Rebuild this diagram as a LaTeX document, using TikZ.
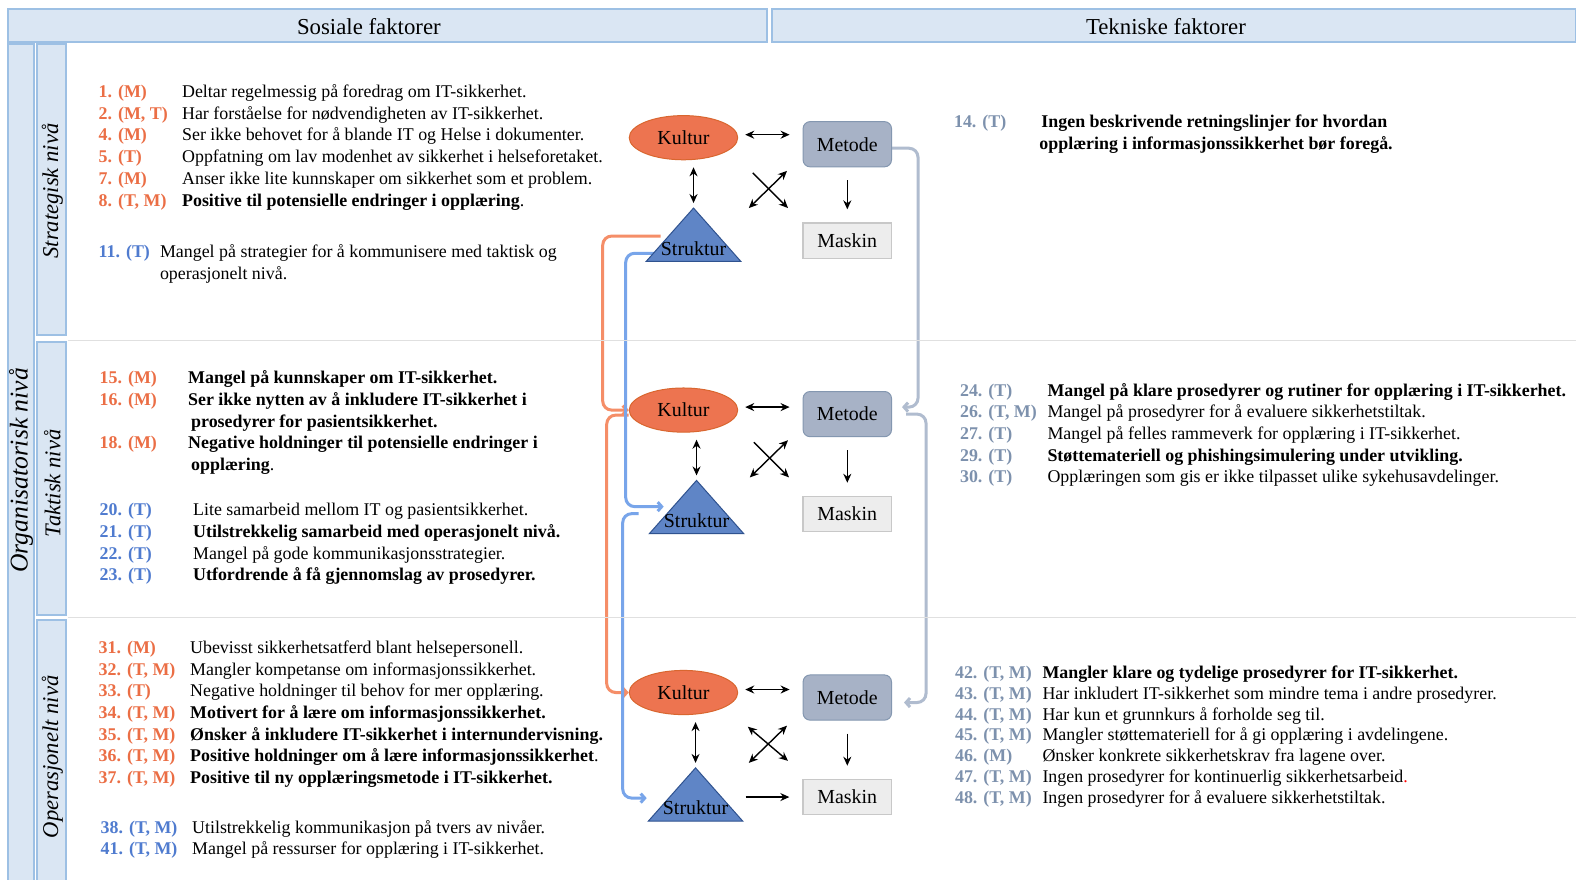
\documentclass[tikz,border=0pt]{standalone}
\usepackage{fontspec}
\setmainfont{Liberation Serif}
\usetikzlibrary{shapes.geometric,arrows.meta,backgrounds}

\definecolor{headfill}{HTML}{DAE6F3}
\definecolor{headline}{HTML}{9DC0E4}
\definecolor{kulturfill}{HTML}{ED7450}
\definecolor{kulturline}{HTML}{D9662F}
\definecolor{strukturfill}{HTML}{5F85C6}
\definecolor{strukturline}{HTML}{2F528F}
\definecolor{metodefill}{HTML}{A7B2C6}
\definecolor{metodeline}{HTML}{8497B0}
\definecolor{maskinfill}{HTML}{EDEDED}
\definecolor{maskinline}{HTML}{C8C8C8}
\definecolor{numorange}{HTML}{EB6E45}
\definecolor{numblue}{HTML}{4F7BCF}
\definecolor{numgray}{HTML}{7D91AD}
\definecolor{flowor}{HTML}{F58E68}
\definecolor{flowblue}{HTML}{78A5EA}
\definecolor{flowgray}{HTML}{B0BCCF}

% triangle with its label: name, apex x, apex y
\newcommand{\strukturtri}[3]{%
  \coordinate (#1-top) at (#2,#3);
  \filldraw[trifill] (#2-47,#3+53) -- (#1-top) -- (#2+47,#3+53) -- cycle;
  \node[shapetext] (#1) at (#2,#3+40) {Struktur};
}

\begin{document}
\begin{tikzpicture}[x=1.005pt,y=-1.005pt]
    % Define the styles for the bars, shapes, texts and arrows
    \tikzstyle{headbox}=[draw=headline, fill=headfill, line width=2pt]
    \tikzstyle{headtext}=[inner sep=0, font=\fontsize{22.8}{26}\selectfont]
    \tikzstyle{sidetext}=[inner sep=0, rotate=90, font=\fontsize{22.6}{26}\selectfont\itshape]
    \tikzstyle{sepline}=[draw=black!12, line width=1pt]
    \tikzstyle{kultur}=[ellipse, draw=kulturline, fill=kulturfill, line width=1pt, minimum width=108.5, minimum height=44.2, inner sep=0, font=\fontsize{19.9}{22}\selectfont]
    \tikzstyle{metode}=[rectangle, rounded corners=7, draw=metodeline, fill=metodefill, line width=1pt, minimum width=88.4, minimum height=45.2, font=\fontsize{19.9}{22}\selectfont]
    \tikzstyle{maskin}=[rectangle, draw=maskinline, fill=maskinfill, line width=1.5pt, minimum width=88.4, minimum height=35.2, font=\fontsize{19.9}{22}\selectfont]
    \tikzstyle{trifill}=[draw=strukturline, fill=strukturfill, line width=1pt]
    \tikzstyle{shapetext}=[inner sep=0, font=\fontsize{19.9}{22}\selectfont]
    \tikzstyle{biarrow}=[line width=1.4pt, {Stealth[length=9pt,width=8pt]}-{Stealth[length=9pt,width=8pt]}]
    \tikzstyle{onearrow}=[line width=1.4pt, -{Stealth[length=9pt,width=8pt]}]
    \tikzstyle{flow}=[line width=3pt, rounded corners=9, -{Straight Barb[length=4pt,width=9pt]}]
    \tikzstyle{nr}=[anchor=base west, inner sep=0, font=\fontsize{17.9}{21.7}\selectfont]
    \tikzstyle{txt}=[anchor=base west, inner sep=0, font=\fontsize{17.9}{21.7}\selectfont]

    \useasboundingbox (0,0) rectangle (1568,874.6);

    % Draw the header and the level bars
    \draw[headbox] (8,9) rectangle (763,42);
    \draw[headbox] (768,9) rectangle (1568,42);
    \node[headtext] (sosiale) at (367,26) {Sosiale faktorer};
    \node[headtext] (tekniske) at (1160,26) {Tekniske faktorer};
    \draw[headbox] (8,44) rectangle (34,890);
    \draw[headbox] (37,44) rectangle (66,333);
    \draw[headbox] (37,340) rectangle (66,612);
    \draw[headbox] (37,617) rectangle (66,890);
    \node[sidetext, font=\fontsize{25.6}{28}\selectfont\itshape] (organisatorisk) at (21,468) {Organisatorisk nivå};
    \node[sidetext] (strategisk) at (52,190) {Strategisk nivå};
    \node[sidetext] (taktisk) at (52,481) {Taktisk nivå};
    \node[sidetext] (operasjonelt) at (52,753) {Operasjonelt nivå};
    \draw[sepline] (68,339) -- (1568,339);
    \draw[sepline] (68,614) -- (1568,614);

    % Strategisk niva, sosiale faktorer
    \foreach \yy/\nr/\tx [count=\i] in {
        97/{1. (M)}/{Deltar regelmessig på foredrag om IT-sikkerhet.},
        118.6/{2. (M, T)}/{Har forståelse for nødvendigheten av IT-sikkerhet.},
        140.2/{4. (M)}/{Ser ikke behovet for å blande IT og Helse i dokumenter.},
        161.8/{5. (T)}/{Oppfatning om lav modenhet av sikkerhet i helseforetaket.},
        183.4/{7. (M)}/{Anser ikke lite kunnskaper om sikkerhet som et problem.},
        205/{8. (T, M)}/{\textbf{Positive til potensielle endringer i opplæring}.}} {
        \node[nr, text=numorange] (sn\i) at (98,\yy) {\textbf{\nr}};
        \node[txt] (st\i) at (181,\yy) {\tx};
    }
    \node[nr, text=numblue] (sn11) at (98,256) {\textbf{11. (T)}};
    \node[txt] (st11) at (159,256) {Mangel på strategier for å kommunisere med taktisk og};
    \node[txt] (st11b) at (159,278) {operasjonelt nivå.};

    % Taktisk niva, sosiale faktorer
    \node[nr, text=numorange] (tn15) at (99,382) {\textbf{15. (M)}};
    \node[txt] (tt15) at (187,382) {\textbf{Mangel på kunnskaper om IT-sikkerhet.}};
    \node[nr, text=numorange] (tn16) at (99,403.5) {\textbf{16. (M)}};
    \node[txt] (tt16) at (187,403.5) {\textbf{Ser ikke nytten av å inkludere IT-sikkerhet i}};
    \node[txt] (tt16b) at (190,425) {\textbf{prosedyrer for pasientsikkerhet.}};
    \node[nr, text=numorange] (tn18) at (99,446.5) {\textbf{18. (M)}};
    \node[txt] (tt18) at (187,446.5) {\textbf{Negative holdninger til potensielle endringer i}};
    \node[txt] (tt18b) at (190,468) {\textbf{opplæring}.};
    \foreach \yy/\nr/\tx [count=\i] in {
        513/{20. (T)}/{Lite samarbeid mellom IT og pasientsikkerhet.},
        534.6/{21. (T)}/{\textbf{Utilstrekkelig samarbeid med operasjonelt nivå.}},
        556.2/{22. (T)}/{Mangel på gode kommunikasjonsstrategier.},
        577.8/{23. (T)}/{\textbf{Utfordrende å få gjennomslag av prosedyrer.}}} {
        \node[nr, text=numblue] (tn\i) at (99,\yy) {\textbf{\nr}};
        \node[txt] (tt\i) at (192,\yy) {\tx};
    }

    % Operasjonelt niva, sosiale faktorer
    \foreach \yy/\nr/\tx [count=\i] in {
        650/{31. (M)}/{Ubevisst sikkerhetsatferd blant helsepersonell.},
        671.6/{32. (T, M)}/{Mangler kompetanse om informasjonssikkerhet.},
        693.2/{33. (T)}/{Negative holdninger til behov for mer opplæring.},
        714.8/{34. (T, M)}/{\textbf{Motivert for å lære om informasjonssikkerhet.}},
        736.4/{35. (T, M)}/{\textbf{Ønsker å inkludere IT-sikkerhet i internundervisning.}},
        758/{36. (T, M)}/{\textbf{Positive holdninger om å lære informasjonssikkerhet}.},
        779.6/{37. (T, M)}/{\textbf{Positive til ny opplæringsmetode i IT-sikkerhet.}}} {
        \node[nr, text=numorange] (on\i) at (98,\yy) {\textbf{\nr}};
        \node[txt] (ot\i) at (189,\yy) {\tx};
    }
    \node[nr, text=numblue] (on38) at (100,829) {\textbf{38. (T, M)}};
    \node[txt] (ot38) at (191,829) {Utilstrekkelig kommunikasjon på tvers av nivåer.};
    \node[nr, text=numblue] (on41) at (100,850.6) {\textbf{41. (T, M)}};
    \node[txt] (ot41) at (191,850.6) {Mangel på ressurser for opplæring i IT-sikkerhet.};

    % Tekniske faktorer
    \node[nr, text=numgray] (rn14) at (949,127) {\textbf{14. (T)}};
    \node[txt] (rt14) at (1036,127) {\textbf{Ingen beskrivende retningslinjer for hvordan}};
    \node[txt] (rt14b) at (1034,148.5) {\textbf{opplæring i informasjonssikkerhet bør foregå.}};
    \foreach \yy/\nr/\tx [count=\i] in {
        394/{24. (T)}/{\textbf{Mangel på klare prosedyrer og rutiner for opplæring i IT-sikkerhet.}},
        415.6/{26. (T, M)}/{Mangel på prosedyrer for å evaluere sikkerhetstiltak.},
        437.2/{27. (T)}/{Mangel på felles rammeverk for opplæring i IT-sikkerhet.},
        458.8/{29. (T)}/{\textbf{Støttemateriell og phishingsimulering under utvikling.}},
        480.4/{30. (T)}/{Opplæringen som gis er ikke tilpasset ulike sykehusavdelinger.}} {
        \node[nr, text=numgray] (mn\i) at (955,\yy) {\textbf{\nr}};
        \node[txt] (mt\i) at (1042,\yy) {\tx};
    }
    \foreach \yy/\nr/\tx [count=\i] in {
        675/{42. (T, M)}/{\textbf{Mangler klare og tydelige prosedyrer for IT-sikkerhet.}},
        695.7/{43. (T, M)}/{Har inkludert IT-sikkerhet som mindre tema i andre prosedyrer.},
        716.4/{44. (T, M)}/{Har kun et grunnkurs å forholde seg til.},
        737.1/{45. (T, M)}/{Mangler støttemateriell for å gi opplæring i avdelingene.},
        757.8/{46. (M)}/{Ønsker konkrete sikkerhetskrav fra lagene over.},
        778.5/{47. (T, M)}/{Ingen prosedyrer for kontinuerlig sikkerhetsarbeid\textcolor{red}{.}},
        799.2/{48. (T, M)}/{Ingen prosedyrer for å evaluere sikkerhetstiltak.}} {
        \node[nr, text=numgray] (bn\i) at (950,\yy) {\textbf{\nr}};
        \node[txt] (bt\i) at (1037,\yy) {\tx};
    }

    % Draw the shapes of the three levels
    \node[kultur] (kultur1) at (680,137) {Kultur};
    \node[metode] (metode1) at (843,143.5) {Metode};
    \node[maskin] (maskin1) at (843,239.5) {Maskin};
    \strukturtri{struktur1}{690}{207}
    \coordinate (kryss1) at (764,188);

    \node[kultur] (kultur2) at (680,408) {Kultur};
    \node[metode] (metode2) at (843,412) {Metode};
    \node[maskin] (maskin2) at (843,511.5) {Maskin};
    \strukturtri{struktur2}{693}{478}
    \coordinate (kryss2) at (765,456);

    \node[kultur] (kultur3) at (680,689) {Kultur};
    \node[metode] (metode3) at (843,694) {Metode};
    \node[maskin] (maskin3) at (843,793) {Maskin};
    \strukturtri{struktur3}{692}{764}
    \coordinate (kryss3) at (764,740);

    % Draw the arrows inside each level
    \foreach \i in {1,2,3} {
        \draw[biarrow, transform canvas={yshift=3pt}, shorten <=7pt, shorten >=13pt] (kultur\i.east) -- (kultur\i.east -| metode\i.west);
        \draw[biarrow, shorten <=7pt, shorten >=5pt] (struktur\i-top |- kultur\i.south) -- (struktur\i-top);
        \draw[onearrow, shorten <=13pt, shorten >=13pt] (metode\i) -- (maskin\i);
        \draw[biarrow] ([shift={(-19,19)}]kryss\i) -- ([shift={(19,-18)}]kryss\i);
    }
    \draw[onearrow] ([shift={(-15,-16)}]kryss1) -- ([shift={(20,19)}]kryss1);
    \draw[onearrow] ([shift={(-15,-16)}]kryss2) -- ([shift={(20,19)}]kryss2);
    \draw[biarrow] ([shift={(-20,-17)}]kryss3) -- ([shift={(20,17)}]kryss3);
    \draw[onearrow, shorten >=13pt] ([xshift=50pt]struktur3-top |- maskin3.west) -- (maskin3.west);

    % Draw the links between the levels
    \begin{scope}[on background layer]
        \fill[white] (0,0) rectangle (1568,874.6);
        \draw[flow, flowor] ([yshift=5pt]struktur1.north west) -| ([xshift=-26pt]kultur2.west) -- (kultur2.west);
        \draw[flow, flowor] ([yshift=-5pt]kultur2.west) -| ([xshift=-22pt]kultur3.west) -- (kultur3.west);
        \draw[flow, flowblue] ([yshift=-5pt]struktur1.west) -| ([xshift=-38pt,yshift=14pt]struktur2.west) -- ([yshift=14pt]struktur2.west);
        \draw[flow, flowblue] ([xshift=-25pt,yshift=7pt]struktur2.west) -| ([xshift=-40pt,yshift=10pt]struktur3.west) -- ([xshift=-16pt,yshift=10pt]struktur3.west);
        \draw[flow, flowgray] ([yshift=-4pt]metode1.east) -| ([xshift=26pt,yshift=7pt]metode2.east) -- ([xshift=10pt,yshift=7pt]metode2.east);
        \draw[flow, flowgray] ([xshift=14pt]metode2.east) -| ([xshift=34pt,yshift=-5pt]metode3.east) -- ([xshift=12pt,yshift=-5pt]metode3.east);
    \end{scope}
\end{tikzpicture}
\end{document}
